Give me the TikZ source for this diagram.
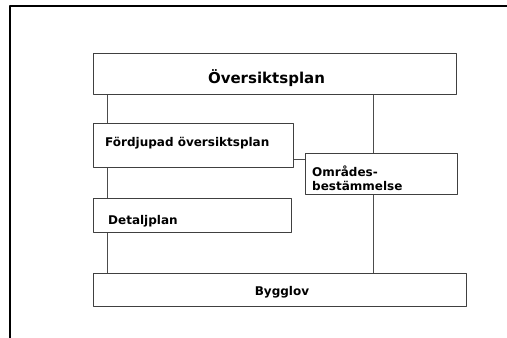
\documentclass[tikz,border=0pt]{standalone}
\usepackage{fontspec}
\setmainfont{DejaVu Sans}
\usetikzlibrary{positioning}
\begin{document}
\begin{tikzpicture}[x=1pt,y=-1pt,line join=round]
	\tikzset{
		planbox/.style={draw=black!75, line width=1pt, rectangle, inner sep=0pt, anchor=north west},
		txt/.style={font=\fontsize{12}{14}\selectfont\bfseries, inner sep=0pt},
		link/.style={draw=black!70, line width=1pt}
	}
	\useasboundingbox (0,0) rectangle (507,338);
	% ram
	\draw[line width=1.8pt] (10,345) -- (10,6) -- (515,6);
	% rutor
	\node[planbox, minimum width=363pt, minimum height=41pt] (ovp) at (93,53) {};
	\node[planbox, minimum width=200pt, minimum height=44pt] (fop) at (93,123) {};
	\node[planbox, minimum width=152pt, minimum height=41pt] (omr) at (305,153) {};
	\node[planbox, minimum width=198pt, minimum height=34pt] (dp) at (93,198) {};
	\node[planbox, minimum width=373pt, minimum height=33pt] (bl) at (93,273) {};
	% texter
	\node[txt, font=\fontsize{15}{17}\selectfont\bfseries, anchor=base] (ovpt) at (266.5,83) {Översiktsplan};
	\node[txt, anchor=base west] (fopt) at ([xshift=12pt,yshift=-23pt]fop.north west) {Fördjupad översiktsplan};
	\node[txt, anchor=base west] (omra) at ([xshift=7pt,yshift=-23pt]omr.north west) {Områdes-};
	\node[txt, anchor=base west] (omrb) at ([yshift=-14pt]omra.base west) {bestämmelse};
	\node[txt, anchor=base west] (dpt) at ([xshift=15pt,yshift=-26pt]dp.north west) {Detaljplan};
	\node[txt, anchor=base] (blt) at (282,295) {Bygglov};
	% linjer
	\coordinate (lx) at (107,0);
	\coordinate (rx) at (373,0);
	\coordinate (ly) at (0,159);
	\draw[link] (lx |- ovp.south) -- (lx |- fop.north);
	\draw[link] (lx |- fop.south) -- (lx |- dp.north);
	\draw[link] (lx |- dp.south) -- (lx |- bl.north);
	\draw[link] (rx |- ovp.south) -- (rx |- omr.north);
	\draw[link] (rx |- omr.south) -- (rx |- bl.north);
	\draw[link] (ly -| fop.east) -- (ly -| omr.west);
\end{tikzpicture}
\end{document}
